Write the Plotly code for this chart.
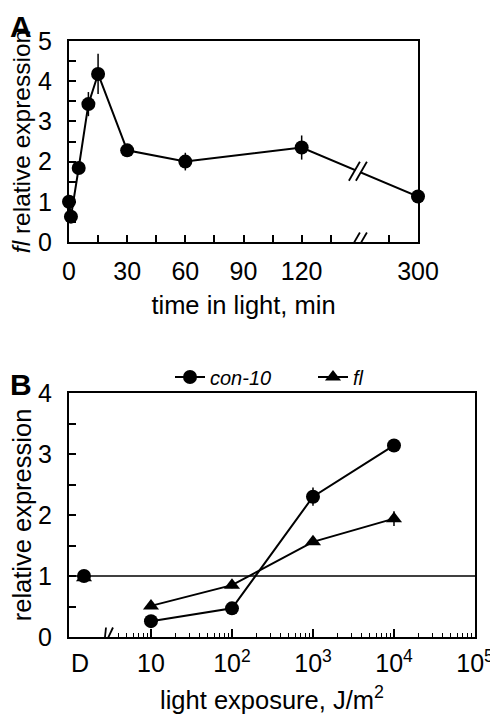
import plotly.graph_objects as go
from plotly.subplots import make_subplots
import numpy as np

# ---------------- Data ----------------
# Panel A: fl relative expression over time in light
time_min = [0, 1, 5, 10, 15, 30, 60, 120, 300]
fl_time = [1.0, 0.63, 1.84, 3.43, 4.18, 2.28, 2.0, 2.35, 1.13]
fl_time_err = [0.12, 0.08, 0.15, 0.3, 0.5, 0.1, 0.22, 0.3, 0.1]
time_tick_labels = [0, 30, 60, 90, 120, 300]
time_minor_ticks = [15, 45, 75, 105, 135, 285]

# Panel B: relative expression vs light exposure
exposure = [10, 100, 1000, 10000]
exposure_tick_labels = ["10", "10<sup>2</sup>", "10<sup>3</sup>", "10<sup>4</sup>", "10<sup>5</sup>"]
exposure_tick_vals = [10, 100, 1000, 10000, 100000]
con10 = [0.26, 0.47, 2.30, 3.14]
con10_err = [0.04, 0.04, 0.15, 0.05]
fl_light = [0.51, 0.85, 1.56, 1.94]
fl_light_err = [0.05, 0.05, 0.05, 0.12]
dark_label = "D"
con10_dark = 1.0
fl_dark = 0.97

FONT = "Liberation Sans, Arial, sans-serif"
BREAK_T = 149       # axis position of break in panel A
D_POS = 1.49        # plotting position of the dark (D) sample on log axis
B_BREAK = 2.63

# The page body has an 8px margin, so the figure is 8px smaller and laid out in page pixels
OFF = 8
W, H = 498 - OFF, 720 - OFF


def px(x):
    return (x - OFF) / W


def py(y):
    return 1 - (y - OFF) / H


def a_pos(t):
    # broken time axis: linear up to 150 min, then 285-300 min appended
    return t if t <= 150 else t - 120


fig = make_subplots(rows=2, cols=1)

# Panel A trace
fig.add_trace(go.Scatter(
    x=[a_pos(t) for t in time_min], y=fl_time,
    mode="lines+markers",
    line=dict(color="black", width=2),
    marker=dict(symbol="circle", size=14, color="black"),
    error_y=dict(type="data", array=fl_time_err, color="black", thickness=1.5, width=0),
    showlegend=False, cliponaxis=False,
), row=1, col=1)

# Panel B traces
fig.add_trace(go.Scatter(
    x=exposure, y=con10, mode="lines+markers", name="<i>con-10</i>",
    line=dict(color="black", width=2),
    marker=dict(symbol="circle", size=14, color="black"),
    error_y=dict(type="data", array=con10_err, color="black", thickness=1.5, width=0),
    cliponaxis=False,
), row=2, col=1)
fig.add_trace(go.Scatter(
    x=exposure, y=fl_light, mode="lines+markers", name="<i>fl</i>",
    line=dict(color="black", width=2),
    marker=dict(symbol="triangle-up", size=14, color="black"),
    error_y=dict(type="data", array=fl_light_err, color="black", thickness=1.5, width=0),
    cliponaxis=False,
), row=2, col=1)
fig.add_trace(go.Scatter(
    x=[D_POS], y=[fl_dark], mode="markers",
    marker=dict(symbol="triangle-up", size=14, color="black"),
    showlegend=False, cliponaxis=False,
), row=2, col=1)
fig.add_trace(go.Scatter(
    x=[D_POS], y=[con10_dark], mode="markers",
    marker=dict(symbol="circle", size=14, color="black"),
    showlegend=False, cliponaxis=False,
), row=2, col=1)

axis_common = dict(
    showline=True, linecolor="black", linewidth=2, mirror=True,
    ticks="inside", tickcolor="black", tickwidth=1.5,
    showgrid=False, zeroline=False, automargin=False,
    tickfont=dict(family=FONT, size=25, color="black"),
)

fig.update_layout(
    width=W, height=H, autosize=False,
    margin=dict(l=0, r=0, t=0, b=0),
    paper_bgcolor="white", plot_bgcolor="white",
    font=dict(family=FONT, size=24, color="black"),
    legend=dict(orientation="h", x=px(170), y=py(377), xanchor="left", yanchor="middle",
                font=dict(family=FONT, size=20, color="black"), itemwidth=30,
                bgcolor="rgba(0,0,0,0)", entrywidth=98, tracegroupgap=0),
)

fig.update_xaxes(
    **axis_common, domain=[px(69), px(418)], range=[0, 180],
    tickvals=[a_pos(t) for t in time_tick_labels], ticktext=[str(t) for t in time_tick_labels],
    ticklen=7, minor=dict(tickvals=[a_pos(t) for t in time_minor_ticks], ticks="inside", ticklen=7,
                          tickcolor="black", tickwidth=1.5),
    ticklabelstandoff=6,
    title=dict(text="time in light, min", font=dict(family=FONT, size=25.5), standoff=12),
    row=1, col=1,
)
fig.update_yaxes(
    **axis_common, domain=[py(242), py(41)], range=[0, 5],
    tickvals=[0, 1, 2, 3, 4, 5], ticklen=7,
    minor=dict(dtick=0.5, ticks="inside", ticklen=7, tickcolor="black", tickwidth=1.5),
    ticklabelstandoff=10,
    title=dict(text="<i>fl</i> relative expression", font=dict(family=FONT, size=24.5), standoff=10),
    row=1, col=1,
)

minor_b = [m * 10 ** e for e in range(0, 5) for m in range(2, 10) if not (e == 0 and m < 4)]
fig.update_xaxes(
    **axis_common, type="log", domain=[px(69), px(475)], range=[-0.012, 5],
    tickvals=exposure_tick_vals, ticktext=exposure_tick_labels, ticklen=8,
    minor=dict(tickvals=minor_b, ticks="inside", ticklen=4, tickcolor="black", tickwidth=1.2),
    ticklabelstandoff=3,
    title=dict(text="light exposure, J/m<sup>2</sup>", font=dict(family=FONT, size=25.5), standoff=15),
    row=2, col=1,
)
fig.update_yaxes(
    **axis_common, domain=[py(637), py(393)], range=[0, 4],
    tickvals=[0, 1, 2, 3, 4], ticklen=7,
    minor=dict(dtick=0.5, ticks="inside", ticklen=7, tickcolor="black", tickwidth=1.5),
    ticklabelstandoff=10,
    title=dict(text="relative expression", font=dict(family=FONT, size=25.5), standoff=10),
    row=2, col=1,
)

# Reference line at relative expression = 1
fig.add_shape(type="line", xref="x2 domain", yref="y2", x0=0, x1=1, y0=1, y1=1,
              line=dict(color="black", width=1.3), layer="below")


def add_break(xref, yref, xa, ya):
    # white gap + two slanted strokes ("//"), sized in pixels around an anchor
    fig.add_shape(type="path", xref=xref, yref=yref, xsizemode="pixel", ysizemode="pixel",
                  xanchor=xa, yanchor=ya, path="M -9,-9 L 2,9 L 9,9 L -2,-9 Z",
                  fillcolor="white", line=dict(width=0), layer="above")
    for dx in (-3.5, 3.5):
        fig.add_shape(type="line", xref=xref, yref=yref, xsizemode="pixel", ysizemode="pixel",
                      xanchor=xa, yanchor=ya, x0=dx - 5.5, y0=-9.5, x1=dx + 5.5, y1=9.5,
                      line=dict(color="black", width=1.8), layer="above")


# break on panel A axis and on the connecting line
add_break("x", "y", BREAK_T, 0)
x120, x300 = a_pos(time_min[-2]), a_pos(time_min[-1])
y_on_line = fl_time[-2] + (fl_time[-1] - fl_time[-2]) * (BREAK_T - x120) / (x300 - x120)
add_break("x", "y", BREAK_T, y_on_line)
# break on panel B axis
add_break("x2", "y2", B_BREAK, 0)

# D label
fig.add_annotation(x=np.log10(D_POS) - 0.05, y=0, xref="x2", yref="y2", text=dark_label,
                   showarrow=False, yanchor="middle", yshift=-26,
                   font=dict(family=FONT, size=25, color="black"))

# Panel letters
fig.add_annotation(x=0, y=1, xref="paper", yref="paper", text="<b>A</b>", showarrow=False,
                   xanchor="left", yanchor="top", font=dict(family=FONT, size=30, color="black"))
fig.add_annotation(x=0, y=py(366), xref="paper", yref="paper", text="<b>B</b>", showarrow=False,
                   xanchor="left", yanchor="top", font=dict(family=FONT, size=30, color="black"))

fig.write_html("out.html")
